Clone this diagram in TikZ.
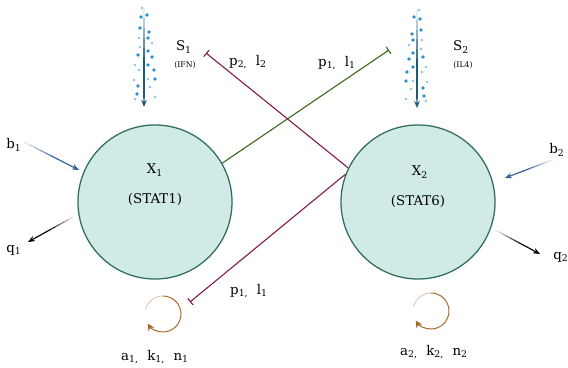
\documentclass[tikz,border=0pt]{standalone}
\usepackage{fontspec}
\setmainfont{DejaVu Serif}
\usetikzlibrary{arrows.meta,calc}

\definecolor{cellfill}{HTML}{D0EBE7}
\definecolor{celledge}{HTML}{2E6C5D}
\definecolor{sigblue}{HTML}{1E5A76}
\definecolor{dotdark}{HTML}{2A8FD0}
\definecolor{dotlight}{HTML}{7CC6EA}
\definecolor{inblue}{HTML}{2D5D95}
\definecolor{actgreen}{HTML}{3D6A1F}
\definecolor{inhred}{HTML}{891C4B}
\definecolor{loopbrown}{HTML}{A46B27}

\tikzset{
  cell/.style={circle, draw=celledge, fill=cellfill, line width=0.9pt,
               minimum size=3.85cm, inner sep=0pt},
  lbl/.style={font=\fontsize{9.5}{11}\selectfont, inner sep=1pt},
  tinylbl/.style={font=\fontsize{5.5}{6}\selectfont, inner sep=1pt},
  inhib/.style={line width=0.8pt, -{Bar[width=6pt]}},
}

% arrow that fades in from white
\newcommand{\fadedarrow}[3]{%
  \foreach \fstep/\fpct in {0/15,1/32,2/49,3/66,4/83,5/100,6/100,7/100,8/100}
    \draw[#1!\fpct!white, line width=0.8pt] ($(#2)!\fstep*0.1!(#3)$) -- ($(#2)!\fstep*0.1+0.11!(#3)$);
  \draw[#1, line width=0.8pt, -{Stealth[length=5pt,width=4pt]}] ($(#2)!0.9!(#3)$) -- (#3);
}

\begin{document}
\begin{tikzpicture}[x=0.025cm, y=0.025cm]
    \useasboundingbox (0,0) rectangle (568,368);

    % the two cells
    \node[cell] (X1) at (155,166) {};
    \node[cell] (X2) at (418,166) {};
    \node[lbl] (x1name) at (155,198) {X\textsubscript{1}};
    \node[lbl] (x1stat) at (155,169) {(STAT1)};
    \node[lbl] (x2name) at (420,196) {X\textsubscript{2}};
    \node[lbl] (x2stat) at (418,167) {(STAT6)};

    % signals from above
    \coordinate (s1top) at (144,360);
    \coordinate (s1end) at (144,261);
    \coordinate (s2top) at (417,358);
    \coordinate (s2end) at (417,260);
    \foreach \dx/\dy/\dsz in {-2/0/0,-3/-9/1,3/-7/1,-4/-20/1,5/-24/1,-5/-30/0,4/-30/1,8/-35/0,
                              -4/-39/0,4/-43/1,-6/-47/1,8/-49/1,-9/-57/0,4/-57/1,-5/-62/0,10/-62/1,
                              -10/-72/0,4/-71/0,11/-71/1,-6/-78/1,6/-79/0,-7/-86/1,11/-89/0,-9/-91/0}
    {
        \ifnum\dsz=1
            \fill[dotdark] ($(s1top)+(\dx,\dy)$) circle (1.3pt);
            \fill[dotdark] ($(s2top)+(-\dx,\dy)$) circle (1.3pt);
        \else
            \fill[dotlight] ($(s1top)+(\dx,\dy)$) circle (0.9pt);
            \fill[dotlight] ($(s2top)+(-\dx,\dy)$) circle (0.9pt);
        \fi
    }
    \fadedarrow{sigblue}{s1top}{s1end}
    \fadedarrow{sigblue}{s2top}{s2end}
    \node[lbl] (s1) at (184,321) {S\textsubscript{1}};
    \node[tinylbl] (ifn) at (185,303) {(IFN)};
    \node[lbl] (s2) at (461,321) {S\textsubscript{2}};
    \node[tinylbl] (il4) at (463,303) {(IL4)};

    % inflow and decay
    \node[lbl] (b1) at (14,223) {b\textsubscript{1}};
    \node[lbl] (b2) at (557,218) {b\textsubscript{2}};
    \node[lbl] (q1) at (14,118) {q\textsubscript{1}};
    \node[lbl] (q2) at (561,111) {q\textsubscript{2}};
    \coordinate (b1from) at (24,226);
    \coordinate (b1to) at (79,198);
    \coordinate (b2from) at (552,208);
    \coordinate (b2to) at (505,190);
    \coordinate (q1from) at (73,151);
    \coordinate (q1to) at (28,126);
    \coordinate (q2from) at (497,137);
    \coordinate (q2to) at (540,114);
    \fadedarrow{inblue}{b1from}{b1to}
    \fadedarrow{inblue}{b2from}{b2to}
    \fadedarrow{black}{q1from}{q1to}
    \fadedarrow{black}{q2from}{q2to}

    % mutual inhibition
    \coordinate (t1) at (389,318);
    \coordinate (t2) at (206,315);
    \coordinate (t3) at (190,66);
    \draw[inhib, actgreen] (X1.30) -- (t1);
    \draw[inhib, inhred] (X2.154) -- (t2);
    \draw[inhib, inhred] (X2.159) -- (t3);
    \node[lbl] (pl2) at (248,306) {p\textsubscript{2,}~~l\textsubscript{2}};
    \node[lbl] (pl1top) at (337,305) {p\textsubscript{1,}~~l\textsubscript{1}};
    \node[lbl] (pl1low) at (249,77) {p\textsubscript{1,}~~l\textsubscript{1}};

    % self activation
    \coordinate (loop1) at (163,54);
    \coordinate (loop2) at (431,57);
    \foreach \lp in {loop1,loop2}
    {
        \draw[loopbrown!35, line width=0.7pt] ($(\lp)+(165:18)$) arc[start angle=165, end angle=90, radius=18];
        \draw[loopbrown, line width=0.7pt, -{Stealth[length=5pt,width=5pt]}]
            ($(\lp)+(90:18)$) arc[start angle=90, end angle=-148, radius=18];
    }
    \node[lbl] (akn1) at (155,11) {a\textsubscript{1,}~~k\textsubscript{1,}~~n\textsubscript{1}};
    \node[lbl] (akn2) at (434,16) {a\textsubscript{2,}~~k\textsubscript{2,}~~n\textsubscript{2}};
\end{tikzpicture}
\end{document}
